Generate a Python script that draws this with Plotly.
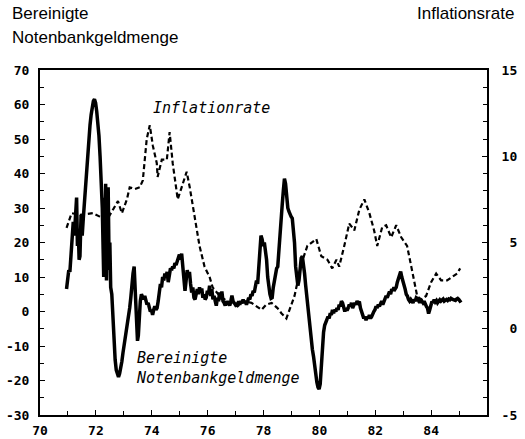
import plotly.graph_objects as go

# ---- data ----
money_years = [70.95, 70.99, 71.03, 71.07, 71.11, 71.15, 71.19, 71.23, 71.27, 71.31, 71.34, 71.37, 71.40, 71.43,
               71.47, 71.51, 71.55, 71.59, 71.63, 71.67, 71.71, 71.75, 71.79, 71.83, 71.87, 71.91, 71.95, 71.99,
               72.03, 72.07, 72.11, 72.15, 72.19, 72.23, 72.26, 72.28, 72.30, 72.33, 72.35, 72.38, 72.40, 72.42,
               72.44, 72.47, 72.50, 72.53, 72.57, 72.61, 72.65, 72.69, 72.73, 72.77, 72.81, 72.85, 72.89, 72.93,
               72.97, 73.01, 73.05, 73.09, 73.13, 73.17, 73.21, 73.25, 73.29, 73.33, 73.37, 73.40, 73.43, 73.46,
               73.49, 73.52, 73.55, 73.59, 73.63, 73.67, 73.71, 73.75, 73.79, 73.83, 73.87, 73.91, 73.95, 73.99,
               74.03, 74.07, 74.11, 74.15, 74.19, 74.23, 74.27, 74.31, 74.35, 74.39, 74.43, 74.47, 74.51, 74.55,
               74.59, 74.63, 74.67, 74.71, 74.75, 74.79, 74.83, 74.87, 74.91, 74.95, 74.99, 75.03, 75.07, 75.11,
               75.15, 75.19, 75.23, 75.27, 75.31, 75.35, 75.39, 75.43, 75.47, 75.51, 75.55, 75.59, 75.63, 75.67,
               75.71, 75.75, 75.79, 75.83, 75.87, 75.91, 75.95, 75.99, 76.03, 76.07, 76.11, 76.15, 76.19, 76.23,
               76.27, 76.31, 76.35, 76.39, 76.43, 76.47, 76.51, 76.55, 76.59, 76.63, 76.67, 76.71, 76.75, 76.79,
               76.83, 76.87, 76.91, 76.95, 76.99, 77.03, 77.07, 77.11, 77.15, 77.19, 77.23, 77.27, 77.31, 77.35,
               77.39, 77.43, 77.47, 77.51, 77.55, 77.59, 77.63, 77.67, 77.71, 77.75, 77.79, 77.83, 77.87, 77.91,
               77.95, 77.99, 78.03, 78.07, 78.11, 78.15, 78.19, 78.23, 78.27, 78.31, 78.35, 78.39, 78.43, 78.47,
               78.51, 78.55, 78.59, 78.63, 78.67, 78.71, 78.75, 78.79, 78.83, 78.87, 78.91, 78.95, 78.99, 79.03,
               79.07, 79.11, 79.15, 79.19, 79.23, 79.27, 79.31, 79.35, 79.39, 79.43, 79.47, 79.51, 79.55, 79.59,
               79.63, 79.67, 79.71, 79.75, 79.79, 79.83, 79.87, 79.91, 79.95, 79.99, 80.03, 80.07, 80.11, 80.15,
               80.19, 80.23, 80.27, 80.31, 80.35, 80.39, 80.43, 80.47, 80.51, 80.55, 80.59, 80.63, 80.67, 80.71,
               80.75, 80.79, 80.83, 80.87, 80.91, 80.95, 80.99, 81.03, 81.07, 81.11, 81.15, 81.19, 81.23, 81.27,
               81.31, 81.35, 81.39, 81.43, 81.47, 81.51, 81.55, 81.59, 81.63, 81.67, 81.71, 81.75, 81.79, 81.83,
               81.87, 81.91, 81.95, 81.99, 82.03, 82.07, 82.11, 82.15, 82.19, 82.23, 82.27, 82.31, 82.35, 82.39,
               82.43, 82.47, 82.51, 82.55, 82.59, 82.63, 82.67, 82.71, 82.75, 82.79, 82.83, 82.87, 82.91, 82.95,
               82.99, 83.03, 83.07, 83.11, 83.15, 83.19, 83.23, 83.27, 83.31, 83.35, 83.39, 83.43, 83.47, 83.51,
               83.55, 83.59, 83.63, 83.67, 83.71, 83.75, 83.79, 83.83, 83.87, 83.91, 83.95, 83.99, 84.03, 84.07,
               84.11, 84.15, 84.19, 84.23, 84.27, 84.31, 84.35, 84.39, 84.43, 84.47, 84.51, 84.55, 84.59, 84.63,
               84.67, 84.71, 84.75, 84.79, 84.83, 84.87, 84.91, 84.95, 84.99, 85.03, 85.07]
money_values = [6.5, 10.5, 12, 11.5, 17, 21, 26, 22, 30, 33, 19, 24, 15, 16,
                28, 22, 27, 32, 36, 41, 46, 51, 54, 57, 59.5, 61, 61.5, 60.5,
                58, 55, 51, 45, 38, 30, 18, 10, 33, 14, 37, 9, 30, 12,
                36, 16, 20, 7, 5, -3, -9, -14, -17, -18.5, -19, -18, -16.5, -14.5,
                -12, -10, -8, -6, -4, -1, 1, 4, 9, 11, 13, 8, 1, -6,
                -8.5, -7, -2, 3, 5, 4, 3.5, 4.5, 3, 2, 2.5, 1, 0, 0.5,
                -1, 0.5, 1.5, 0.5, 1, 3, 6, 8, 7, 10, 9, 11, 10, 11.5,
                8.5, 10, 12.5, 12, 13, 12.5, 14, 13.5, 15, 15.5, 16.5, 15, 16.8, 13,
                8.5, 6, 9, 12, 10, 11.5, 8, 5.5, 7, 4, 3.5, 5, 6.5, 5,
                7, 5.5, 6.7, 4, 5, 3.5, 4, 6, 5, 7.5, 4.5, 6.5, 3.5, 4.5,
                2.5, 1.7, 4, 3, 5.5, 3.5, 5.8, 3, 2.5, 1.7, 3, 2, 2.5, 1.7,
                3, 4.6, 3, 2.5, 2, 2.5, 1.7, 3, 2, 3, 2.5, 3.5, 2.5, 3,
                2, 2.9, 4, 3.5, 5, 4.5, 6, 5.5, 7.5, 9, 8, 14, 19, 22,
                21, 19, 20, 18, 15, 10, 7, 5, 3.8, 4, 7, 9, 11, 12.5,
                13, 18, 24, 28, 31, 35, 38.5, 37, 32, 30, 29, 28, 27.5, 27,
                24, 20, 13, 9, 7.5, 9, 13, 15.5, 16, 14, 11, 7.5, 4, 1,
                -2, -5, -8, -11, -13, -16, -18.5, -20.5, -22, -22.5, -21, -16, -9, -6,
                -4, -3, -2, -1.5, -2, -0.5, -1, 0.5, -0.5, 0.5, 0, 1, 0.5, 2,
                1.5, 3, 2.5, 1, 0, 1, 0.3, 1, 2, 1.5, 2.5, 1, 1.7, 2.5,
                2, 3, 2.5, 2.9, 1, 0, -1.5, -2, -1.5, -2.5, -1.5, -2, -1, -2,
                -1.5, -0.5, 0, 0.5, 1.5, 1, 2, 1.5, 2.5, 3, 2, 3, 3.5, 4.5,
                4, 5, 5.8, 5, 6.5, 6, 7, 6.5, 7, 8.5, 9.5, 10.5, 11.6, 10,
                9, 8, 6.5, 5, 4.5, 3.5, 3, 3.5, 2.9, 2.5, 3.5, 3, 4, 3.8,
                3.2, 2.5, 3.5, 2.9, 2.5, 3, 2, 1.5, 1, -0.6, 0.5, 2, 2.9, 2.5,
                3.5, 2.8, 3.2, 2.5, 3, 3.4, 3, 3.2, 3.6, 3, 3.3, 3.5, 3.2, 3.6,
                3.4, 3.8, 3.6, 3.4, 3.5, 3.2, 3.6, 3.8, 3.5, 3.2, 2.6]

infl_years = [70.95, 71.13, 71.43, 71.89, 72.14, 72.39, 72.61, 72.79, 72.93, 73.11, 73.21, 73.40, 73.57, 73.68,
              73.82, 73.93, 74.04, 74.18, 74.21, 74.36, 74.54, 74.64, 74.75, 74.93, 75.07, 75.25, 75.36, 75.54,
              75.71, 75.89, 76.07, 76.18, 76.43, 76.61, 76.85, 77.07, 77.30, 77.57, 77.75, 77.93, 78.10, 78.29,
              78.50, 78.64, 78.82, 79.11, 79.36, 79.57, 79.89, 80.07, 80.29, 80.46, 80.61, 80.71, 80.89, 81.07,
              81.25, 81.43, 81.61, 81.79, 81.96, 82.07, 82.25, 82.39, 82.57, 82.75, 82.93, 83.14, 83.29, 83.39,
              83.50, 83.64, 83.82, 84.00, 84.18, 84.36, 84.57, 84.75, 84.93, 85.04]
infl_values = [5.85, 6.7, 6.6, 6.7, 6.5, 6.3, 6.9, 7.4, 6.7, 7.5, 8.2, 8.1, 8.2, 8.6,
               11.0, 11.8, 10.6, 9.6, 8.8, 9.8, 9.8, 11.4, 9.6, 7.5, 8.2, 9.1, 8.2, 6.5,
               4.8, 3.6, 3.0, 2.4, 1.9, 1.7, 1.5, 1.3, 1.6, 1.5, 1.3, 1.1, 1.4, 1.5,
               1.2, 0.9, 0.6, 1.9, 3.8, 4.8, 5.2, 4.2, 4.0, 3.5, 4.0, 3.6, 4.8, 6.1,
               5.7, 6.9, 7.5, 6.7, 5.7, 4.8, 5.9, 6.0, 5.3, 6.0, 5.3, 4.8, 3.6, 2.7,
               1.9, 1.7, 1.9, 2.7, 3.2, 2.8, 2.8, 3.0, 3.2, 3.5]

x_tickvals = [70, 72, 74, 76, 78, 80, 82, 84]
x_ticktext = ["70", "72", "74", "76", "78", "80", "82", "84"]
y_tickvals = [-30, -20, -10, 0, 10, 20, 30, 40, 50, 60, 70]
y_ticktext = ["-30", "-20", "-10", "0", "10", "20", "30", "40", "50", "60", "70"]
y2_tickvals = [-5, 0, 5, 10, 15]
y2_ticktext = ["-5", "\u00a00", "\u00a05", "10", "15"]

# ---- layout helpers (pixel -> paper) ----
W, H = 525, 439
L, R, T, B = 40, 487, 70, 415


def px(x):
    return (x - L) / (R - L)


def py(y):
    return (B - y) / (B - T)


tickfont = dict(family="DejaVu Sans Mono", size=13, color="black", weight="bold")

fig = go.Figure()
fig.add_trace(go.Scatter(x=infl_years, y=infl_values, yaxis="y2", mode="lines",
                         line=dict(color="black", width=2.2, dash="5px,3px"),
                         showlegend=False, hoverinfo="skip"))
fig.add_trace(go.Scatter(x=money_years, y=money_values, mode="lines",
                         line=dict(color="black", width=3.5),
                         showlegend=False, hoverinfo="skip"))

axis_common = dict(showgrid=False, zeroline=False, showline=True, linecolor="black",
                   linewidth=2, ticks="inside", tickcolor="black", tickwidth=1.2,
                   ticklen=5, tickfont=tickfont, automargin=False)

fig.update_layout(
    width=W, height=H,
    margin=dict(l=L, r=W - R, t=T, b=H - B, pad=0, autoexpand=False),
    paper_bgcolor="white", plot_bgcolor="white",
    xaxis=dict(range=[70, 86], tickvals=x_tickvals, ticktext=x_ticktext, mirror=True,
               minor=dict(dtick=1, tick0=70, ticks="inside", ticklen=4, tickcolor="black"),
               ticklabelstandoff=2, **axis_common),
    yaxis=dict(range=[-30, 70], tickvals=y_tickvals, ticktext=y_ticktext,
               minor=dict(dtick=5, tick0=0, ticks="inside", ticklen=4, tickcolor="black"),
               ticklabelstandoff=6, **axis_common),
    yaxis2=dict(range=[-5, 15], tickvals=y2_tickvals, ticktext=y2_ticktext,
                overlaying="y", side="right",
                minor=dict(dtick=1, tick0=0, ticks="inside", ticklen=4, tickcolor="black"),
                ticklabelstandoff=10, **axis_common),
)

head_font = dict(family="Liberation Sans, Arial", size=17, color="black")
mono_it = dict(family="DejaVu Sans Mono", size=15, color="black", style="italic")

anns = [
    dict(text="Bereinigte", x=px(10), y=py(14), xanchor="left", yanchor="middle", font=head_font),
    dict(text="Notenbankgeldmenge", x=px(10), y=py(37), xanchor="left", yanchor="middle", font=head_font),
    dict(text="Inflationsrate", x=px(516), y=py(14), xanchor="right", yanchor="middle", font=head_font),
    dict(text="Inflationrate", x=px(151), y=py(108), xanchor="left", yanchor="middle", font=mono_it),
    dict(text="Bereinigte<br>Notenbankgeldmenge", x=px(134), y=py(367.5), xanchor="left",
         yanchor="middle", align="left", font=mono_it),
]
for a in anns:
    fig.add_annotation(xref="paper", yref="paper", showarrow=False, **a)

fig.write_html("out.html", config={"displayModeBar": False},
               post_script="document.body.style.margin='0';")
